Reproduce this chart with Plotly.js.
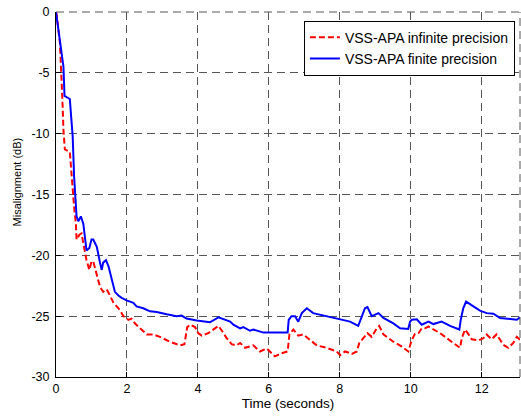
<!DOCTYPE html>
<html>
<head>
<meta charset="utf-8">
<script src="https://cdn.plot.ly/plotly-3.0.1.min.js"></script>
<style>html,body{margin:0;padding:0;background:#fff;}#chart{width:521px;height:417px;}</style>
</head>
<body>
<div id="chart"></div>
<script>
var infTime = [0,0.02,0.11,0.14,0.18,0.21,0.25,0.39,0.42,0.47,0.51,0.56,0.58,0.66,0.72,0.77,0.86,0.94,1.0,1.05,1.15,1.24,1.33,1.43,1.52,1.62,1.71,1.80,1.90,2.04,2.13,2.23,2.37,2.56,2.74,2.93,3.21,3.50,3.62,3.70,3.78,3.92,4.01,4.11,4.29,4.44,4.58,4.70,4.81,4.95,5.09,5.19,5.33,5.56,5.75,5.94,6.17,6.36,6.53,6.58,6.69,6.83,6.97,7.16,7.35,7.63,7.91,8.01,8.15,8.34,8.48,8.55,8.66,8.78,8.90,9.04,9.11,9.23,9.51,9.75,9.93,10.03,10.12,10.22,10.31,10.40,10.50,10.64,10.83,11.01,11.25,11.39,11.44,11.53,11.63,11.72,11.91,12.05,12.14,12.28,12.42,12.61,12.75,12.89,12.99,13.08];
var infMis = [0,-0.25,-2.5,-4.2,-7.2,-9.7,-11.3,-11.5,-12.7,-14.5,-16.0,-17.4,-18.7,-18.3,-18.2,-19.0,-20.4,-21.2,-20.5,-20.5,-21.5,-22.6,-23.0,-22.8,-23.3,-23.9,-24.2,-24.5,-25.0,-25.3,-25.2,-25.6,-26.0,-26.5,-26.5,-26.7,-27.1,-27.4,-27.3,-25.9,-25.7,-25.9,-26.4,-26.6,-26.4,-26.1,-25.8,-26.3,-26.8,-27.3,-27.4,-27.2,-27.6,-27.4,-27.9,-27.65,-28.3,-28.05,-27.9,-26.5,-26.1,-26.6,-26.5,-26.95,-27.4,-27.6,-27.9,-28.2,-27.9,-28.1,-27.9,-27.2,-26.8,-26.4,-26.7,-26.0,-25.8,-26.5,-27.1,-27.5,-27.9,-26.95,-26.45,-26.4,-26.0,-26.0,-25.85,-26.1,-26.4,-26.8,-27.35,-27.6,-26.8,-26.1,-26.5,-26.9,-27.0,-26.8,-26.5,-26.9,-26.5,-27.35,-27.6,-27.2,-26.7,-26.95];

var finTime = [0,0.065,0.14,0.21,0.24,0.39,0.43,0.47,0.51,0.54,0.58,0.63,0.70,0.77,0.82,0.86,0.94,1.0,1.05,1.15,1.24,1.29,1.33,1.41,1.48,1.57,1.66,1.76,1.85,1.99,2.18,2.27,2.46,2.65,2.84,3.12,3.40,3.54,3.68,3.97,4.15,4.34,4.58,4.76,4.91,5.0,5.19,5.28,5.47,5.56,5.85,6.2,6.53,6.56,6.64,6.74,6.83,6.93,7.07,7.25,7.63,8.01,8.29,8.52,8.59,8.71,8.78,8.90,9.09,9.23,9.51,9.70,9.93,9.98,10.03,10.17,10.31,10.50,10.64,10.87,11.11,11.37,11.41,11.48,11.56,11.72,11.95,12.14,12.33,12.52,12.80,12.99,13.08];
var finMis = [0,-1.5,-2.9,-4.5,-6.9,-7.15,-8.7,-10.2,-13.5,-15.3,-16.8,-17.2,-16.8,-17.4,-18.6,-19.6,-19.4,-18.7,-18.7,-19.3,-20.6,-21.2,-20.6,-20.4,-20.9,-22.0,-23.0,-23.3,-23.5,-23.7,-23.9,-24.2,-24.35,-24.6,-24.65,-24.85,-25.0,-24.95,-25.2,-25.35,-25.4,-25.5,-25.1,-25.3,-25.45,-25.7,-26.0,-25.9,-26.2,-26.1,-26.35,-26.35,-26.35,-25.3,-25.0,-25.0,-25.45,-24.75,-24.35,-24.75,-25.0,-25.25,-25.45,-25.8,-25.3,-24.35,-24.25,-25.0,-24.75,-25.15,-25.6,-26.0,-26.05,-25.45,-25.3,-25.25,-25.7,-25.45,-25.65,-25.45,-25.8,-26.1,-25.3,-24.35,-23.8,-24.1,-24.55,-24.75,-24.8,-25.15,-25.25,-25.3,-25.1];

var xTickVals = [0,2,4,6,8,10,12];
var xTickText = ['0','2','4','6','8','10','12'];
var yTickVals = [0,-5,-10,-15,-20,-25,-30];
var yTickText = ['0','-5','-10','-15','-20','-25','-30'];

var fontFam = 'Liberation Sans, Arial, sans-serif';

var traces = [
  {x: infTime, y: infMis, type: 'scatter', mode: 'lines', name: 'VSS-APA infinite precision',
   line: {color: '#ff0000', width: 2, dash: '6px,3px'}},
  {x: finTime, y: finMis, type: 'scatter', mode: 'lines', name: 'VSS-APA finite precision',
   line: {color: '#0000ff', width: 2}}
];

var gridStyle = {showgrid: true, gridcolor: '#555', gridwidth: 1, griddash: '8px,5px'};

var layout = {
  width: 521, height: 417,
  margin: {l: 56, r: 1, t: 12, b: 40, pad: 0},
  paper_bgcolor: '#fff', plot_bgcolor: '#fff',
  font: {family: fontFam, size: 12, color: '#000'},
  showlegend: true,
  legend: {x: 0.989, xanchor: 'right', y: 0.976, yanchor: 'top',
           bgcolor: '#fff', bordercolor: '#000', borderwidth: 1,
           font: {family: fontFam, size: 14, color: '#000'}, tracegroupgap: 0},
  xaxis: Object.assign({
    range: [0, 13.08], tickvals: xTickVals, ticktext: xTickText,
    showline: true, linecolor: '#000', linewidth: 1, zeroline: false,
    ticks: 'inside', ticklen: 5, tickcolor: '#000',
    tickfont: {family: fontFam, size: 12.5, color: '#000'},
    title: {text: 'Time (seconds)', font: {family: fontFam, size: 13.5, color: '#000'}, standoff: 3}
  }, gridStyle),
  yaxis: Object.assign({
    range: [-30, 0], tickvals: yTickVals, ticktext: yTickText,
    showline: true, linecolor: '#000', linewidth: 1, zeroline: false,
    ticks: 'inside', ticklen: 5, tickcolor: '#000', ticklabelstandoff: 3,
    tickfont: {family: fontFam, size: 12.5, color: '#000'}
  }, gridStyle),
  annotations: [
    {text: 'Misalignment (dB)', xref: 'paper', yref: 'paper', x: -0.084, y: 0.533,
     xanchor: 'center', yanchor: 'middle', textangle: -90, showarrow: false,
     font: {family: fontFam, size: 11, color: '#000'}}
  ],
  shapes: [
    {type: 'line', xref: 'paper', yref: 'paper', x0: 1, x1: 1, y0: 0, y1: 1,
     line: {color: '#555', width: 1, dash: '8px,5px'}},
    {type: 'line', xref: 'paper', yref: 'paper', x0: 0, x1: 1, y0: 1, y1: 1,
     line: {color: '#555', width: 1, dash: '8px,5px'}}
  ]
};

Plotly.newPlot('chart', traces, layout, {staticPlot: true, displayModeBar: false});
</script>
</body>
</html>
